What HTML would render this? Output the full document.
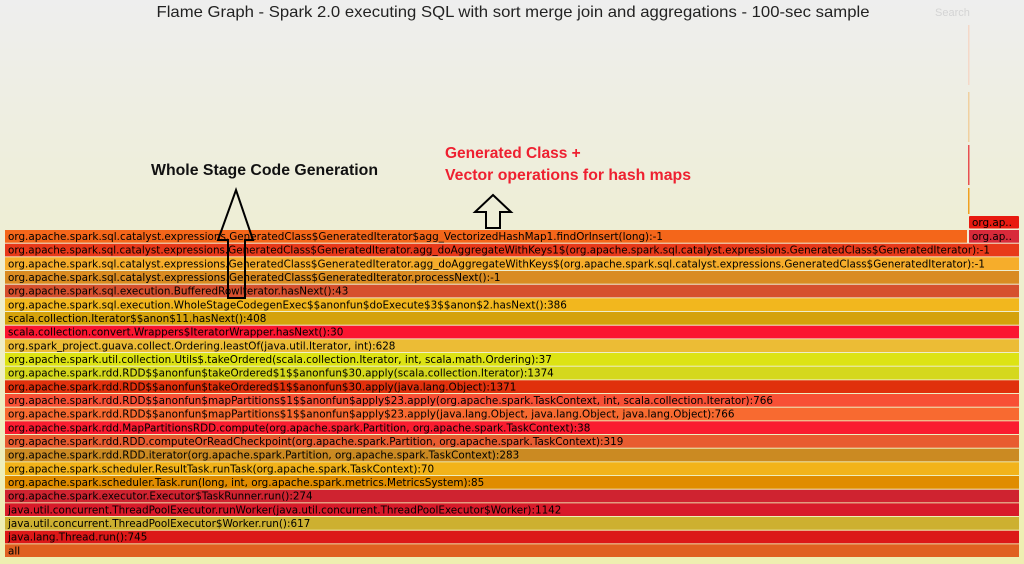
<!DOCTYPE html>
<html><head><meta charset="utf-8"><style>
html,body{margin:0;padding:0;width:1024px;height:564px;overflow:hidden}
svg{display:block}
.r text{font-family:"DejaVu Sans","Liberation Sans",sans-serif;font-size:10.4px;fill:#000}
</style></head><body>
<svg width="1024" height="564" viewBox="0 0 1024 564" xmlns="http://www.w3.org/2000/svg">
<defs><linearGradient id="bg" x1="0" y1="0" x2="0" y2="1"><stop offset="0" stop-color="#eeeeee"/><stop offset="1" stop-color="#eeeeb0"/></linearGradient></defs>
<rect width="1024" height="564" fill="url(#bg)"/>
<text x="513" y="17" text-anchor="middle" font-family="Liberation Sans, sans-serif" font-size="16" fill="#222" textLength="713" lengthAdjust="spacingAndGlyphs">Flame Graph - Spark 2.0 executing SQL with sort merge join and aggregations - 100-sec sample</text>
<text x="935" y="16" font-family="Liberation Sans, sans-serif" font-size="11" fill="#d4d4d4">Search</text>
<g>
<rect x="968" y="25" width="1.5" height="60" fill="#f4d8c8"/>
<rect x="968" y="92" width="1.5" height="50" fill="#f0d0a0"/>
<rect x="968" y="145" width="1.5" height="40" fill="#e85050"/>
<rect x="968" y="188" width="1.5" height="26" fill="#f0a020"/>
</g>
<g class="r">
<rect x="969" y="216" width="50" height="12.5" fill="#e81a10" rx="1"/><text x="972" y="226">org.ap..</text>
<rect x="5" y="230" width="962" height="12.7" fill="#f4661a"/><text x="8" y="240" textLength="655" lengthAdjust="spacingAndGlyphs">org.apache.spark.sql.catalyst.expressions.GeneratedClass$GeneratedIterator$agg_VectorizedHashMap1.findOrInsert(long):-1</text>
<rect x="969" y="230" width="50" height="12.7" fill="#d82a3a"/><text x="972" y="240">org.ap..</text>
<rect x="5" y="243.7" width="1014" height="12.7" fill="#e8391a"/><text x="8" y="253.7" textLength="982" lengthAdjust="spacingAndGlyphs">org.apache.spark.sql.catalyst.expressions.GeneratedClass$GeneratedIterator.agg_doAggregateWithKeys1$(org.apache.spark.sql.catalyst.expressions.GeneratedClass$GeneratedIterator):-1</text>
<rect x="5" y="257.3" width="1014" height="12.7" fill="#f6ad2b"/><text x="8" y="267.3" textLength="977" lengthAdjust="spacingAndGlyphs">org.apache.spark.sql.catalyst.expressions.GeneratedClass$GeneratedIterator.agg_doAggregateWithKeys$(org.apache.spark.sql.catalyst.expressions.GeneratedClass$GeneratedIterator):-1</text>
<rect x="5" y="271" width="1014" height="12.7" fill="#d98b22"/><text x="8" y="281">org.apache.spark.sql.catalyst.expressions.GeneratedClass$GeneratedIterator.processNext():-1</text>
<rect x="5" y="284.7" width="1014" height="12.7" fill="#d6502e"/><text x="8" y="294.7">org.apache.spark.sql.execution.BufferedRowIterator.hasNext():43</text>
<rect x="5" y="298.3" width="1014" height="12.7" fill="#f2b71e"/><text x="8" y="308.3">org.apache.spark.sql.execution.WholeStageCodegenExec$$anonfun$doExecute$3$$anon$2.hasNext():386</text>
<rect x="5" y="312" width="1014" height="12.7" fill="#d4a20c"/><text x="8" y="322">scala.collection.Iterator$$anon$11.hasNext():408</text>
<rect x="5" y="325.7" width="1014" height="12.7" fill="#fb1630"/><text x="8" y="335.7">scala.collection.convert.Wrappers$IteratorWrapper.hasNext():30</text>
<rect x="5" y="339.3" width="1014" height="12.7" fill="#ecbc35"/><text x="8" y="349.3">org.spark_project.guava.collect.Ordering.leastOf(java.util.Iterator, int):628</text>
<rect x="5" y="353" width="1014" height="12.7" fill="#dde314"/><text x="8" y="363">org.apache.spark.util.collection.Utils$.takeOrdered(scala.collection.Iterator, int, scala.math.Ordering):37</text>
<rect x="5" y="366.7" width="1014" height="12.7" fill="#d5d81d"/><text x="8" y="376.7">org.apache.spark.rdd.RDD$$anonfun$takeOrdered$1$$anonfun$30.apply(scala.collection.Iterator):1374</text>
<rect x="5" y="380.3" width="1014" height="12.7" fill="#e0300c"/><text x="8" y="390.3">org.apache.spark.rdd.RDD$$anonfun$takeOrdered$1$$anonfun$30.apply(java.lang.Object):1371</text>
<rect x="5" y="394" width="1014" height="12.7" fill="#f85035"/><text x="8" y="404">org.apache.spark.rdd.RDD$$anonfun$mapPartitions$1$$anonfun$apply$23.apply(org.apache.spark.TaskContext, int, scala.collection.Iterator):766</text>
<rect x="5" y="407.7" width="1014" height="12.7" fill="#f86a30"/><text x="8" y="417.7">org.apache.spark.rdd.RDD$$anonfun$mapPartitions$1$$anonfun$apply$23.apply(java.lang.Object, java.lang.Object, java.lang.Object):766</text>
<rect x="5" y="421.3" width="1014" height="12.7" fill="#fa1c30"/><text x="8" y="431.3">org.apache.spark.rdd.MapPartitionsRDD.compute(org.apache.spark.Partition, org.apache.spark.TaskContext):38</text>
<rect x="5" y="435" width="1014" height="12.7" fill="#e85c30"/><text x="8" y="445">org.apache.spark.rdd.RDD.computeOrReadCheckpoint(org.apache.spark.Partition, org.apache.spark.TaskContext):319</text>
<rect x="5" y="448.7" width="1014" height="12.7" fill="#cb8a22"/><text x="8" y="458.7">org.apache.spark.rdd.RDD.iterator(org.apache.spark.Partition, org.apache.spark.TaskContext):283</text>
<rect x="5" y="462.3" width="1014" height="12.7" fill="#f2b31a"/><text x="8" y="472.3">org.apache.spark.scheduler.ResultTask.runTask(org.apache.spark.TaskContext):70</text>
<rect x="5" y="476" width="1014" height="12.7" fill="#e08c00"/><text x="8" y="486">org.apache.spark.scheduler.Task.run(long, int, org.apache.spark.metrics.MetricsSystem):85</text>
<rect x="5" y="489.7" width="1014" height="12.7" fill="#cf2330"/><text x="8" y="499.7">org.apache.spark.executor.Executor$TaskRunner.run():274</text>
<rect x="5" y="503.3" width="1014" height="12.7" fill="#d81a2a"/><text x="8" y="513.3">java.util.concurrent.ThreadPoolExecutor.runWorker(java.util.concurrent.ThreadPoolExecutor$Worker):1142</text>
<rect x="5" y="517" width="1014" height="12.7" fill="#cdb030"/><text x="8" y="527">java.util.concurrent.ThreadPoolExecutor$Worker.run():617</text>
<rect x="5" y="530.7" width="1014" height="12.7" fill="#dc1818"/><text x="8" y="540.7">java.lang.Thread.run():745</text>
<rect x="5" y="544.3" width="1014" height="12.7" fill="#e06020"/><text x="8" y="554.3">all</text>
</g>
<text x="151" y="175" font-family="Liberation Sans, sans-serif" font-weight="bold" font-size="15.5" fill="#111" textLength="227" lengthAdjust="spacingAndGlyphs">Whole Stage Code Generation</text>
<text x="445" y="158" font-family="Liberation Sans, sans-serif" font-weight="bold" font-size="15.5" fill="#ee2030">Generated Class +</text>
<text x="445" y="180" font-family="Liberation Sans, sans-serif" font-weight="bold" font-size="15.5" fill="#ee2030" textLength="246" lengthAdjust="spacingAndGlyphs">Vector operations for hash maps</text>
<polygon points="236,190 253,240 245,240 245,298 228,298 228,240 218,240" fill="none" stroke="#000" stroke-width="2"/>
<polygon points="493,195 511,212 500,212 500,228 486,228 486,212 475,212" fill="none" stroke="#000" stroke-width="2"/>
</svg>
</body></html>
